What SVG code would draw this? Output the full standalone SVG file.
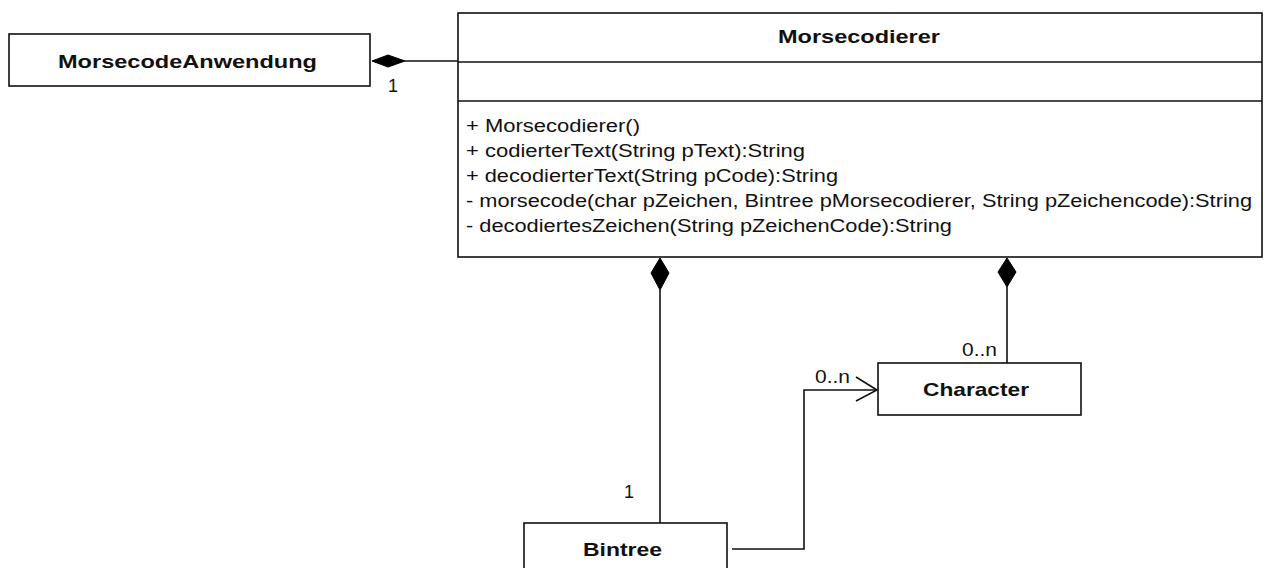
<svg xmlns="http://www.w3.org/2000/svg" width="1268" height="568" viewBox="0 0 1268 568">
<style>
.box{fill:#fff;stroke:#111;stroke-width:1.6}
.ln{fill:none;stroke:#111;stroke-width:1.6}
.dia{fill:#000;stroke:#000;stroke-width:1}
.t{font-family:"Liberation Sans",Arial,sans-serif;font-size:18px;fill:#111}
.b{font-family:"Liberation Sans",Arial,sans-serif;font-size:19px;font-weight:bold;fill:#111}
</style>
<rect width="1268" height="568" fill="#fff"/>
<g id="MorsecodeAnwendung">
<rect class="box" x="9" y="34" width="361" height="52"/>
<text class="b" x="58" y="68" textLength="259" lengthAdjust="spacingAndGlyphs">MorsecodeAnwendung</text>
</g>
<g id="Morsecodierer">
<rect class="box" x="458" y="13" width="804" height="244"/>
<line class="ln" x1="458" y1="62" x2="1262" y2="62"/>
<line class="ln" x1="458" y1="101" x2="1262" y2="101"/>
<text class="b" x="778" y="43" textLength="162" lengthAdjust="spacingAndGlyphs">Morsecodierer</text>
<text class="t" x="466" y="132" textLength="174" lengthAdjust="spacingAndGlyphs">+ Morsecodierer()</text>
<text class="t" x="466" y="157" textLength="339" lengthAdjust="spacingAndGlyphs">+ codierterText(String pText):String</text>
<text class="t" x="466" y="182" textLength="372" lengthAdjust="spacingAndGlyphs">+ decodierterText(String pCode):String</text>
<text class="t" x="466" y="207" textLength="786" lengthAdjust="spacingAndGlyphs">- morsecode(char pZeichen, Bintree pMorsecodierer, String pZeichencode):String</text>
<text class="t" x="466" y="232" textLength="486" lengthAdjust="spacingAndGlyphs">- decodiertesZeichen(String pZeichenCode):String</text>
</g>
<g id="Character">
<rect class="box" x="878" y="363" width="203" height="52"/>
<text class="b" x="923" y="396" textLength="106" lengthAdjust="spacingAndGlyphs">Character</text>
</g>
<g id="Bintree">
<rect class="box" x="524" y="523" width="203" height="60"/>
<text class="b" x="583" y="556" textLength="79" lengthAdjust="spacingAndGlyphs">Bintree</text>
</g>
<g id="connectors">
<line class="ln" x1="405" y1="61" x2="458" y2="61"/>
<polygon class="dia" points="372,61 388,55 405,61 388,67"/>
<text class="t" x="388" y="92" font-size="17">1</text>
<line class="ln" x1="660" y1="290" x2="660" y2="523"/>
<polygon class="dia" points="660,258 669,273 660,290 651,273"/>
<text class="t" x="624" y="498" font-size="17">1</text>
<line class="ln" x1="1007" y1="287" x2="1007" y2="363"/>
<polygon class="dia" points="1007,258 1016,272 1007,287 998,272"/>
<text class="t" x="962" y="356" font-size="17" textLength="35" lengthAdjust="spacingAndGlyphs">0..n</text>
<polyline class="ln" points="732,549 804,549 804,390 877,390"/>
<polyline class="ln" points="856,377 877,390 856,401"/>
<text class="t" x="815" y="383" font-size="17" textLength="35" lengthAdjust="spacingAndGlyphs">0..n</text>
</g>
</svg>
